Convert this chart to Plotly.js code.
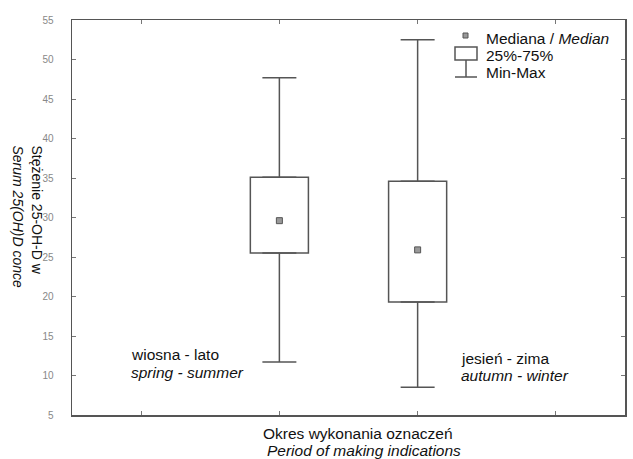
<!DOCTYPE html>
<html>
<head>
<meta charset="utf-8">
<script src="https://cdn.plot.ly/plotly-3.0.1.min.js"></script>
<style>html,body{margin:0;padding:0;background:#fff;}#chart{width:633px;height:459px;}</style>
</head>
<body>
<div id="chart"></div>
<script>
// Data
const categoriesPL = ['wiosna - lato', 'jesień - zima'];
const categoriesEN = ['spring - summer', 'autumn - winter'];
const catPos = [0, 1];
const minVals = [11.7, 8.5];
const q1Vals = [25.5, 19.3];
const medianVals = [29.6, 25.9];
const q3Vals = [35.1, 34.6];
const maxVals = [47.7, 52.5];
const yTicks = [5, 10, 15, 20, 25, 30, 35, 40, 45, 50, 55];

const lineCol = '#555555';
const font = 'Liberation Sans, Arial, sans-serif';
const txtCol = '#111111';

const boxTrace = {
  type: 'bar',
  x: catPos,
  base: q1Vals,
  y: q3Vals.map((v, i) => v - q1Vals[i]),
  width: 0.42,
  marker: {color: '#ffffff', line: {color: lineCol, width: 1.5}},
  hoverinfo: 'skip',
  showlegend: false
};
const upperWhisker = {
  type: 'scatter', mode: 'markers',
  x: catPos, y: maxVals,
  marker: {size: 1, opacity: 0},
  error_y: {type: 'data', symmetric: false, array: catPos.map(() => 0),
            arrayminus: maxVals.map((v, i) => v - q3Vals[i]),
            color: lineCol, thickness: 1.5, width: 17},
  hoverinfo: 'skip', showlegend: false
};
const lowerWhisker = {
  type: 'scatter', mode: 'markers',
  x: catPos, y: minVals,
  marker: {size: 1, opacity: 0},
  error_y: {type: 'data', symmetric: false, array: minVals.map((v, i) => q1Vals[i] - v),
            arrayminus: catPos.map(() => 0),
            color: lineCol, thickness: 1.5, width: 17},
  hoverinfo: 'skip', showlegend: false
};
const medianTrace = {
  type: 'scatter', mode: 'markers',
  x: catPos, y: medianVals,
  marker: {symbol: 'square', size: 6, color: '#999999', line: {color: lineCol, width: 1}},
  hoverinfo: 'skip', showlegend: false
};

// paper helpers (plot area: x 72..625, y 20..415)
const L = 72, R = 625, T = 20, B = 415;
const px = v => (v - L) / (R - L);
const py = v => (B - v) / (B - T);

const f15 = {family: font, size: 15.5, color: txtCol};
const ann = (x, y, text, xanchor, extra) => Object.assign({
  xref: 'paper', yref: 'paper', x: px(x), y: py(y), xanchor: xanchor || 'left', yanchor: 'middle',
  text: text, showarrow: false, font: f15
}, extra || {});

const annotations = [
  // category labels inside the plot (positioned in data coordinates)
  {xref: 'x', yref: 'y', x: catPos[0] - 1.09, y: 12.6, xanchor: 'left', yanchor: 'middle',
   text: categoriesPL[0], showarrow: false, font: f15},
  {xref: 'x', yref: 'y', x: catPos[0] - 1.09, y: 10.4, xanchor: 'left', yanchor: 'middle',
   text: '<i>' + categoriesEN[0] + '</i>', showarrow: false, font: f15},
  {xref: 'x', yref: 'y', x: catPos[1] + 0.30, y: 12.2, xanchor: 'left', yanchor: 'middle',
   text: categoriesPL[1], showarrow: false, font: f15},
  {xref: 'x', yref: 'y', x: catPos[1] + 0.30, y: 10.0, xanchor: 'left', yanchor: 'middle',
   text: '<i>' + categoriesEN[1] + '</i>', showarrow: false, font: f15},
  // x axis title
  ann(358, 433, 'Okres wykonania oznaczeń', 'center'),
  ann(364, 450, '<i>Period of making indications</i>', 'center'),
  // y axis title, rotated to read top to bottom
  {xref: 'paper', yref: 'paper', x: px(28), y: py(143), xanchor: 'center', yanchor: 'top', align: 'left',
   textangle: 90,
   text: 'Stężenie 25-OH-D w<br><i>Serum 25(OH)D conce</i>', showarrow: false,
   font: {family: font, size: 14, color: txtCol}},
  // legend texts
  ann(484, 38, 'Mediana / <i>Median</i>'),
  ann(484, 55, '25%-75%'),
  ann(484, 72, 'Min-Max')
];

const shapes = [
  {type: 'rect', xref: 'paper', yref: 'paper', x0: px(463), x1: px(468), y0: py(38), y1: py(33),
   line: {color: lineCol, width: 1}, fillcolor: '#999999'},
  {type: 'rect', xref: 'paper', yref: 'paper', x0: px(455), x1: px(477), y0: py(60), y1: py(47),
   line: {color: lineCol, width: 1.5}, fillcolor: '#ffffff'},
  {type: 'line', xref: 'paper', yref: 'paper', x0: px(466), x1: px(466), y0: py(60), y1: py(77),
   line: {color: lineCol, width: 1.5}},
  {type: 'line', xref: 'paper', yref: 'paper', x0: px(455), x1: px(477), y0: py(77), y1: py(77),
   line: {color: lineCol, width: 1.5}}
];

const layout = {
  width: 633, height: 459,
  margin: {l: L, r: 633 - R, t: T, b: 459 - B, pad: 0},
  paper_bgcolor: '#ffffff', plot_bgcolor: '#ffffff',
  showlegend: false,
  barmode: 'overlay',
  xaxis: {
    type: 'linear', range: [-1.5, 2.5], tickvals: [-1, 0, 1, 2], ticktext: ['', '', '', ''],
    ticks: 'inside', ticklen: 4, tickcolor: '#777', tickwidth: 1,
    showline: true, linecolor: lineCol, linewidth: 1.5, mirror: 'ticks',
    showgrid: false, zeroline: false, fixedrange: true
  },
  yaxis: {
    range: [5, 55], tickvals: yTicks, ticks: 'inside', ticklen: 4, tickcolor: '#777', tickwidth: 1,
    showline: true, linecolor: lineCol, linewidth: 1.5, mirror: 'ticks',
    showgrid: false, zeroline: false, ticklabelstandoff: 15,
    tickfont: {family: font, size: 10, color: '#888'}
  },
  annotations: annotations,
  shapes: shapes
};

Plotly.newPlot('chart', [boxTrace, upperWhisker, lowerWhisker, medianTrace], layout,
  {displayModeBar: false, staticPlot: true});
</script>
</body>
</html>
